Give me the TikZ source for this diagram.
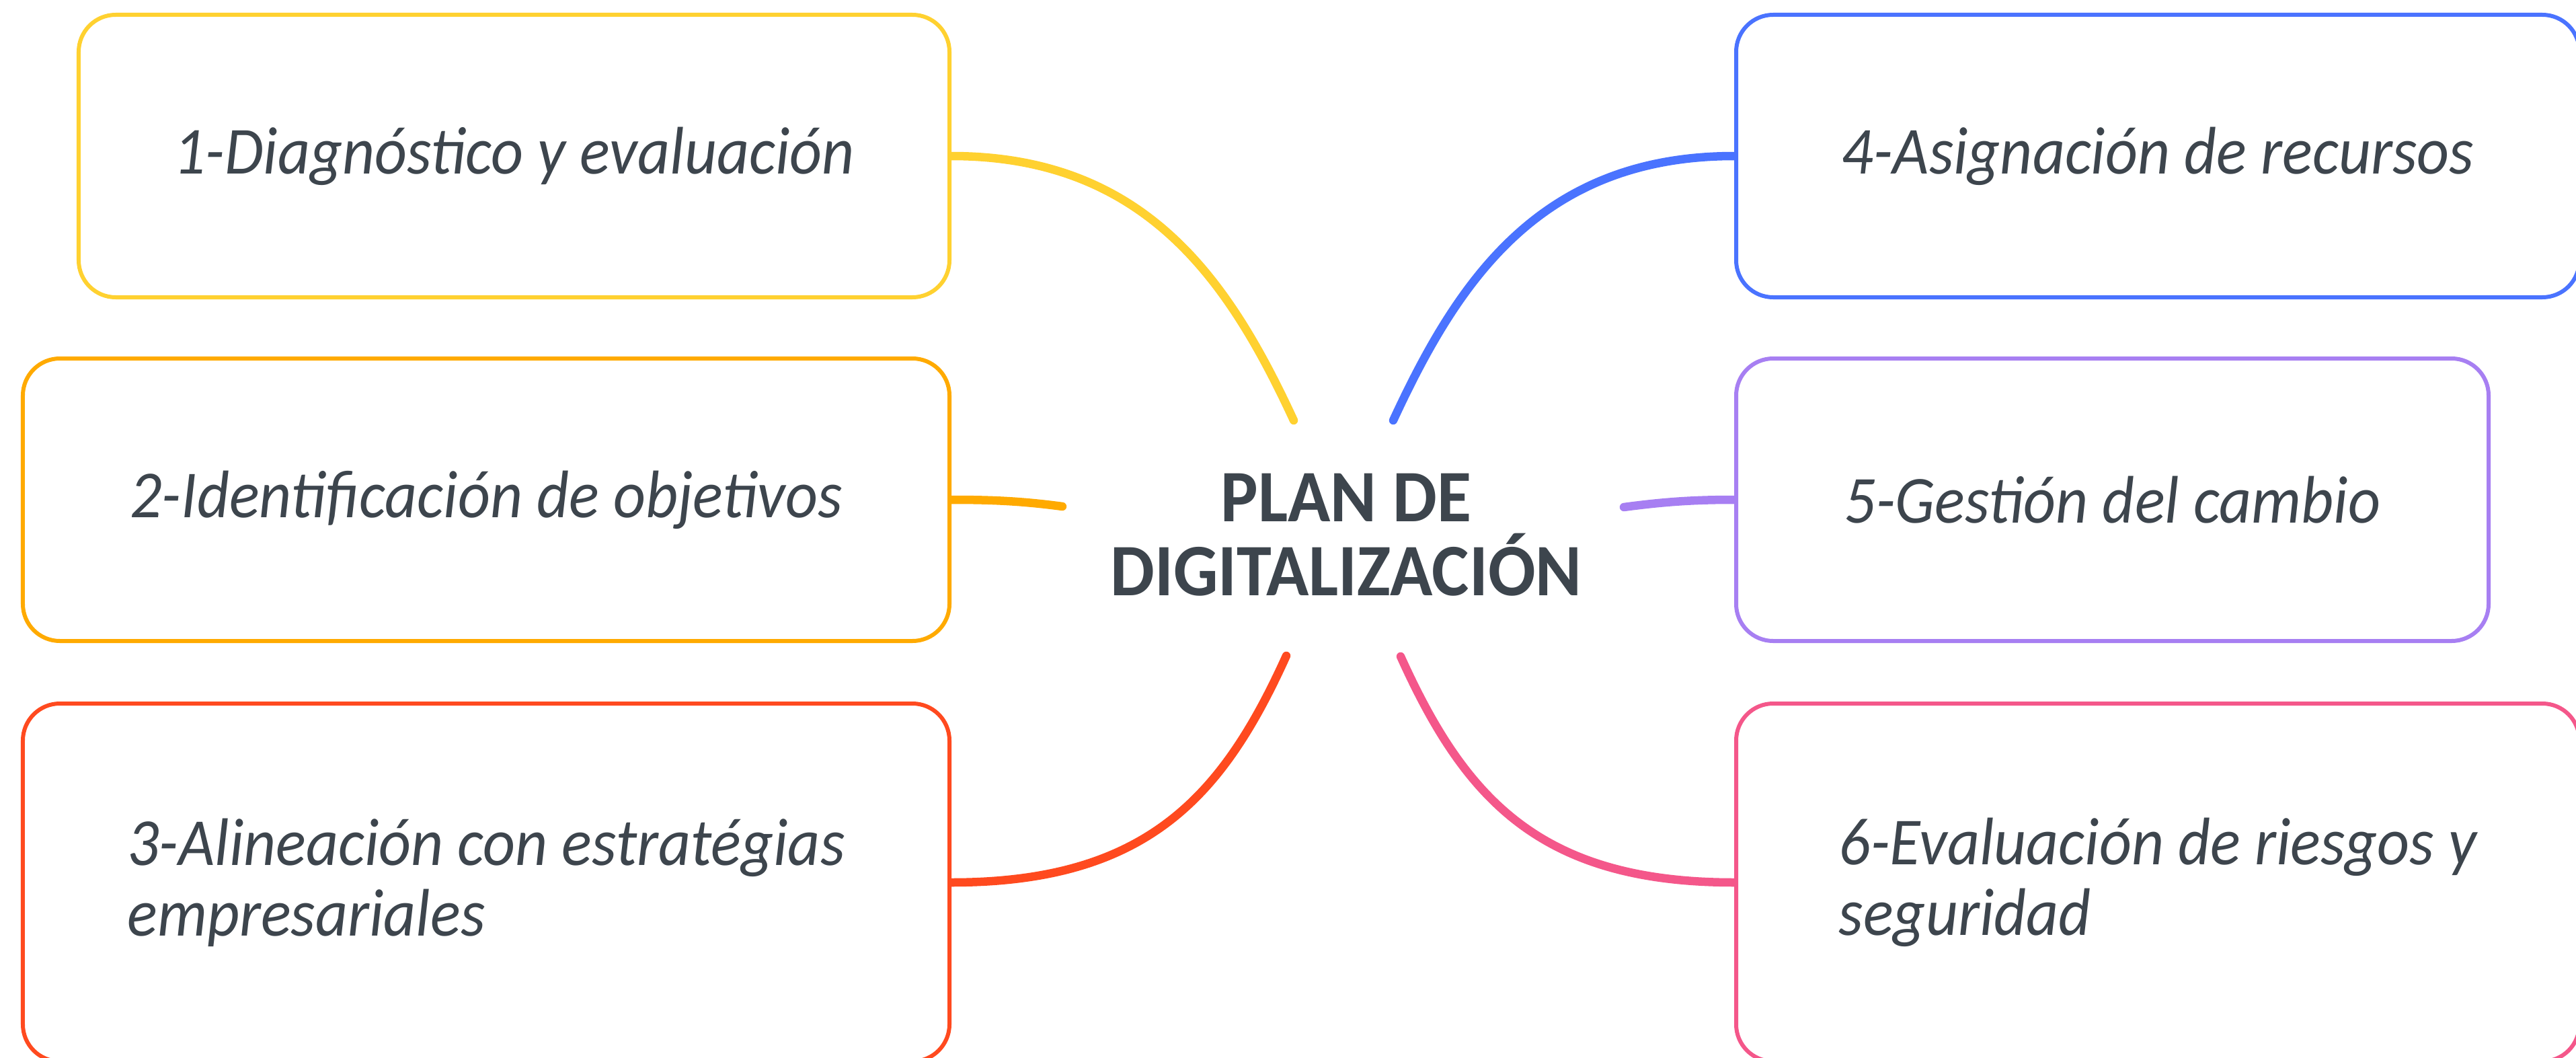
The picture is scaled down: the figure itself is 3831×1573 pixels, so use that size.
\documentclass[tikz,border=0pt]{standalone}
\usepackage{fontspec}
\setmainfont{Carlito}
\newfontfamily\boxfont[FakeStretch=0.935]{Carlito}
\newfontfamily\hubfont[FakeStretch=0.95]{Carlito}
\usetikzlibrary{backgrounds}
\definecolor{ink}{HTML}{3D454D}
\definecolor{cyellow}{HTML}{FFD130}
\definecolor{corange}{HTML}{FFAA00}
\definecolor{cred}{HTML}{FF4A1F}
\definecolor{cblue}{HTML}{4A73FF}
\definecolor{cpurple}{HTML}{A77FF2}
\definecolor{cpink}{HTML}{F4578A}
\tikzset{
  topic/.style={draw, line width=1.2pt, rounded corners=11pt, fill=white, text=ink,
    font=\boxfont\itshape\fontsize{20}{21}\selectfont, inner sep=0pt, align=left},
  hubtext/.style={text=ink, font=\hubfont\bfseries\fontsize{22}{22}\selectfont, align=center, inner sep=0pt},
  link/.style={line width=2.5pt, line cap=round}
}
\begin{document}
\begin{tikzpicture}[x=0.2pt,y=-0.2pt]
\useasboundingbox (0,0) rectangle (3831,1573);
\node[topic, draw=cyellow, minimum width=259pt, minimum height=84pt] (b1) at (764.5,232) {1-Diagnóstico y evaluación};
\node[topic, draw=corange, minimum width=275.6pt, minimum height=84pt] (b2) at (723,743) {2-Identificación de objetivos};
\node[topic, draw=cred, minimum width=275.6pt, minimum height=106.4pt] (b3) at (723,1312) {3-Alineación con estratégias\\empresariales};
\node[topic, draw=cblue, minimum width=250.8pt, minimum height=84pt] (b4) at (3209,232) {4-Asignación de recursos};
\node[topic, draw=cpurple, minimum width=223.8pt, minimum height=84pt] (b5) at (3141.5,743) {5-Gestión del cambio};
\node[topic, draw=cpink, minimum width=250.8pt, minimum height=106.4pt] (b6) at (3209,1312) {6-Evaluación de riesgos y\\seguridad};
\node[hubtext] (hub) at (2002,795) {PLAN DE\\DIGITALIZACIÓN};
\coordinate (e1) at (1924,625);
\coordinate (e2) at (1580,753);
\coordinate (e3) at (1913,975);
\coordinate (e4) at (2072,625);
\coordinate (e5) at (2415,754);
\coordinate (e6) at (2083,976);
\begin{scope}[on background layer]
\draw[link, cyellow] (b1.east) .. controls +(290,0) and +(-95,-205) .. (e1);
\draw[link, corange] (b2.east) .. controls +(60,0) and +(-60,-8) .. (e2);
\draw[link, cred] (b3.east) .. controls +(290,0) and +(-95,210) .. (e3);
\draw[link, cblue] (b4.west) .. controls +(-290,0) and +(95,-205) .. (e4);
\draw[link, cpurple] (b5.west) .. controls +(-60,0) and +(60,-8) .. (e5);
\draw[link, cpink] (b6.west) .. controls +(-290,0) and +(95,210) .. (e6);
\end{scope}
\end{tikzpicture}
\end{document}
